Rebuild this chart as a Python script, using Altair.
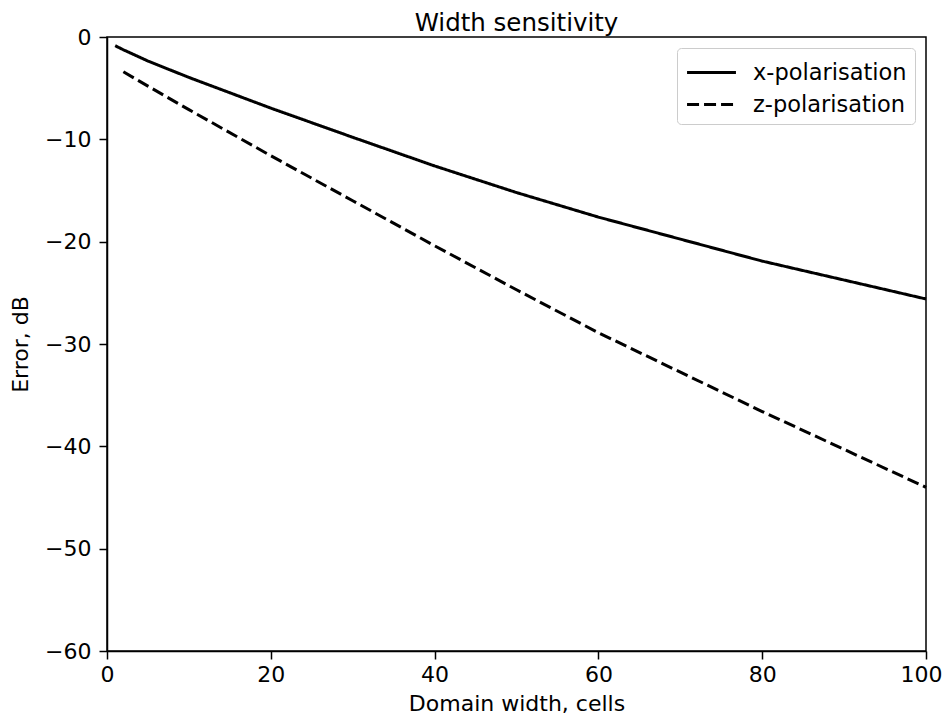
import altair as alt
import pandas as pd

title_text = "Width sensitivity"
series_names = ["x-polarisation", "z-polarisation"]

x_pol_width = [1, 2, 5, 10, 20, 30, 40, 50, 60, 80, 100]
x_pol_error = [-0.85, -1.25, -2.35, -3.95, -6.95, -9.8, -12.6, -15.2, -17.6, -21.9, -25.6]

z_pol_width = [2, 5, 10, 20, 30, 40, 50, 60, 80, 100]
z_pol_error = [-3.4, -4.8, -7.1, -11.6, -16.0, -20.4, -24.7, -28.9, -36.6, -44.0]

x_ticks = [0, 20, 40, 60, 80, 100]
y_ticks = [0, -10, -20, -30, -40, -50, -60]

df = pd.concat([
    pd.DataFrame({"width": x_pol_width, "error": x_pol_error, "series": series_names[0]}),
    pd.DataFrame({"width": z_pol_width, "error": z_pol_error, "series": series_names[1]}),
])

font = "DejaVu Sans"
fs = 22
common_axis = dict(grid=False, tickSize=8, tickWidth=1.5, tickColor="black",
                   domainColor="black", domainWidth=1.5, labelFontSize=fs,
                   titleFontSize=fs, labelColor="black", titleColor="black",
                   titleFontWeight="normal", labelFont=font, titleFont=font,
                   labelFlush=False)

chart = alt.Chart(df).mark_line(color="black", strokeWidth=3).encode(
    x=alt.X("width:Q", title="Domain width, cells",
            scale=alt.Scale(domain=[0, 100], nice=False, zero=False),
            axis=alt.Axis(values=x_ticks, labelPadding=5, titlePadding=8,
                          labelOffset={"condition": {"test": "datum.value === 100", "value": -5},
                                       "value": 0},
                          **common_axis)),
    y=alt.Y("error:Q", title="Error, dB",
            scale=alt.Scale(domain=[-60, 0], nice=False, zero=False),
            axis=alt.Axis(values=y_ticks, labelPadding=8, titlePadding=12,
                          labelExpr="replace(datum.label, '-', '\u2212')", **common_axis)),
    strokeDash=alt.StrokeDash("series:N",
        scale=alt.Scale(domain=series_names, range=[[1, 0], [12, 5]]),
        legend=alt.Legend(title=None, orient="top-right", offset=11,
                          symbolType="M-1.63,0H1.63", symbolSize=900, symbolStrokeWidth=3,
                          symbolStrokeColor="black", labelFontSize=22.5, labelFont=font,
                          labelColor="black", padding=8, strokeColor="#cccccc",
                          fillColor="white", cornerRadius=4, rowPadding=4,
                          symbolOffset=10, labelOffset=25)),
    detail="series:N",
).properties(
    width=819, height=614,
    title=alt.TitleParams(title_text, fontSize=24.5, font=font, fontWeight="normal",
                          color="black", offset=0, dy=10),
    autosize=alt.AutoSizeParams(type="none"),
    padding={"left": 99, "top": 29, "right": 17, "bottom": 67},
).configure_view(stroke="black", strokeWidth=1.5)

chart.save("out.html", embed_options={"renderer": "svg", "actions": False})
